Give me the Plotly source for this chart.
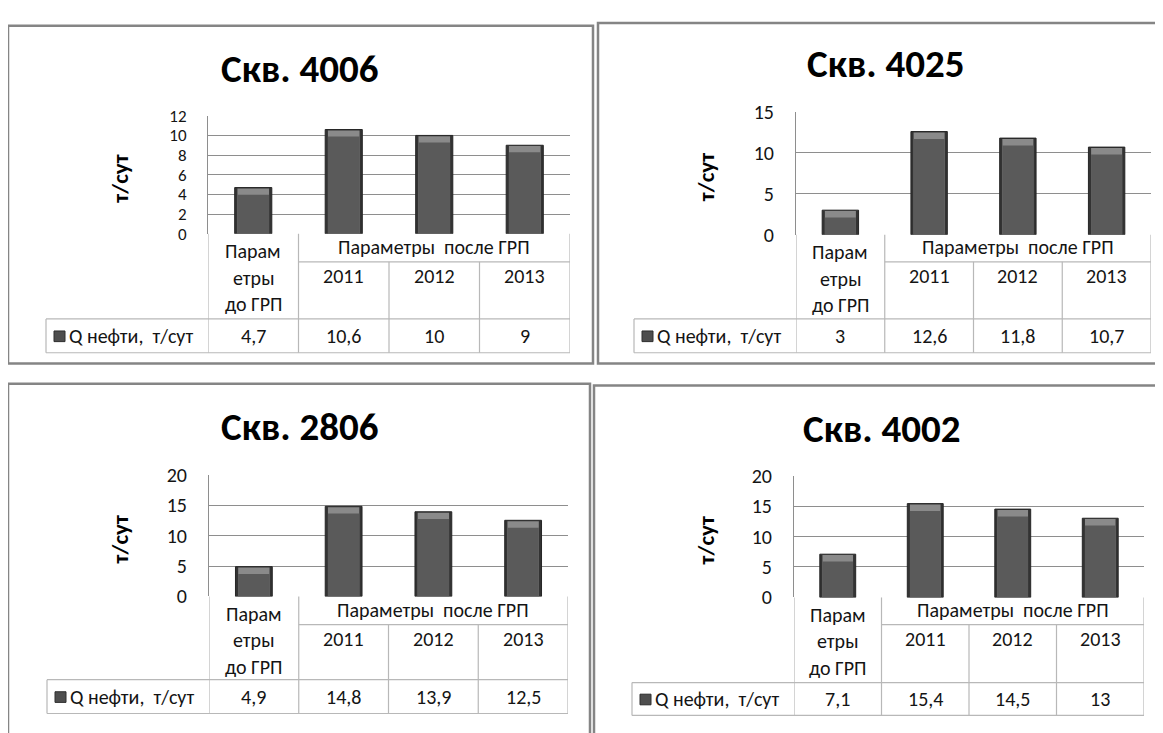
import plotly.graph_objects as go

W, H = 1163, 733
OFF = 8  # page body margin of the browser

# ---------------- data ----------------
categories = ["Параметры до ГРП", "2011", "2012", "2013"]
header_before = ["Парам", "етры", "до ГРП"]
header_after = "Параметры  после ГРП"
years = ["2011", "2012", "2013"]
series_name = "Q нефти,  т/сут"
y_title = "т/сут"

titles = ["Скв. 4006", "Скв. 4025", "Скв. 2806", "Скв. 4002"]
q_4006 = [4.7, 10.6, 10, 9]
q_4025 = [3, 12.6, 11.8, 10.7]
q_2806 = [4.9, 14.8, 13.9, 12.5]
q_4002 = [7.1, 15.4, 14.5, 13]
series = [q_4006, q_4025, q_2806, q_4002]
y_max = [12, 15, 20, 20]
y_step = [2, 5, 5, 5]

# ---------------- layout geometry (pixels of the target picture) ----------------
panels = [
    dict(tx=300, ty=58, l=208, r=570, t=107, b=229, r1=258, r2=317, r3=352, leg=46, yt=120,
         frame=(8, 14, 593, 363), tick=17),
    dict(tx=886, ty=53, l=796, r=1151, t=103, b=230, r1=258, r2=317, r3=352, leg=634, yt=706,
         frame=(598, 11, 1185, 363), tick=20),
    dict(tx=300, ty=428, l=209, r=568, t=478, b=604, r1=633, r2=690, r3=725, leg=47, yt=120,
         frame=(8, 384, 590, 760), tick=20),
    dict(tx=882, ty=430, l=794, r=1144, t=479, b=605, r1=633, r2=693, r3=727, leg=632, yt=706,
         frame=(594, 386, 1185, 760), tick=20),
]

FONT = "Carlito, Calibri, 'Noto Sans', sans-serif"
TXT = "#141414"
GRID = "#8e8e8e"
TAB = "#b8b8b8"
FRAME = "#858585"


def X(px):
    return (px - OFF) / W


def Y(py):
    return 1 - (py - OFF) / H


def fmt(v):
    return f"{v:g}".replace(".", ",")


fig = go.Figure()
shapes = []
annotations = []
layout_axes = {}

for i, (p, vals) in enumerate(zip(panels, series)):
    n = "" if i == 0 else str(i + 1)
    xr, yr = "x" + n, "y" + n
    cap = y_max[i] * 0.06

    # main bar (dark edge)
    fig.add_trace(go.Bar(
        x=categories, y=vals, xaxis=xr, yaxis=yr, width=0.41,
        marker=dict(color="#333333", line=dict(color="#262626", width=1)),
        showlegend=False, name=series_name, hoverinfo="x+y",
    ))
    # lighter top cap
    fig.add_trace(go.Bar(
        x=categories, y=[v - cap * 0.12 for v in vals], xaxis=xr, yaxis=yr, width=0.35,
        marker=dict(color="#8a8a8a", line=dict(width=0)),
        showlegend=False, hoverinfo="skip",
    ))
    # body
    fig.add_trace(go.Bar(
        x=categories, y=[v - cap for v in vals], xaxis=xr, yaxis=yr, width=0.35,
        marker=dict(color="#5a5a5a", line=dict(width=0)),
        showlegend=False, hoverinfo="skip",
    ))

    layout_axes["xaxis" + n] = dict(
        domain=[X(p["l"]), X(p["r"])], anchor=yr, type="category",
        range=[-0.5, 3.5], showticklabels=False, showgrid=False,
        zeroline=False, showline=False, fixedrange=True,
    )
    layout_axes["yaxis" + n] = dict(
        domain=[Y(p["b"]), Y(p["t"])], anchor=xr, range=[0, y_max[i]],
        dtick=y_step[i], tick0=0, showgrid=True, gridcolor=GRID, gridwidth=1,
        showline=True, linecolor=GRID, linewidth=1, zeroline=False,
        ticks="", ticklabelstandoff=17,
        tickfont=dict(family=FONT, size=p["tick"], color=TXT), fixedrange=True,
    )

    # panel frame
    fx0, fy0, fx1, fy1 = p["frame"]
    shapes.append(dict(type="rect", xref="paper", yref="paper",
                       x0=X(fx0), x1=X(fx1), y0=Y(fy1), y1=Y(fy0),
                       line=dict(color=FRAME, width=2.5), fillcolor="rgba(0,0,0,0)"))

    # title
    annotations.append(dict(text=titles[i], xref="paper", yref="paper",
                            x=X(p["tx"]), y=Y(p["ty"]), showarrow=False,
                            xanchor="center", yanchor="middle",
                            font=dict(family=FONT, size=39, color="#000", weight="bold")))
    # y title
    annotations.append(dict(text=y_title, xref="paper", yref="paper",
                            x=X(p["yt"]), y=Y((p["t"] + p["b"]) / 2 + 4), showarrow=False,
                            textangle=-90, xanchor="center", yanchor="middle",
                            font=dict(family=FONT, size=23, color="#000", weight="bold")))

    # ----- data table under the axis -----
    def hline(xa, xb, py, xref=xr):
        shapes.append(dict(type="line", xref=xref, yref="paper", x0=xa, x1=xb,
                           y0=Y(py), y1=Y(py), line=dict(color=TAB, width=1.2)))

    def vline(xv, pa, pb, xref=xr):
        shapes.append(dict(type="line", xref=xref, yref="paper", x0=xv, x1=xv,
                           y0=Y(pa), y1=Y(pb), line=dict(color=TAB, width=1.2)))

    hline(0.5, 3.5, p["r1"])
    hline(-0.5, 3.5, p["r2"])
    hline(-0.5, 3.5, p["r3"])
    for py in (p["r2"], p["r3"]):
        shapes.append(dict(type="line", xref="paper", yref="paper", x0=X(p["leg"]), x1=X(p["l"]),
                           y0=Y(py), y1=Y(py), line=dict(color=TAB, width=1.2)))
    shapes.append(dict(type="line", xref="paper", yref="paper", x0=X(p["leg"]), x1=X(p["leg"]),
                       y0=Y(p["r2"]), y1=Y(p["r3"]), line=dict(color=TAB, width=1.2)))
    vline(-0.5, p["b"], p["r3"])
    vline(0.5, p["b"], p["r3"])
    vline(1.5, p["r1"], p["r3"])
    vline(2.5, p["r1"], p["r3"])
    vline(3.5, p["b"], p["r3"])

    tfont = dict(family=FONT, size=20, color=TXT)
    for k, line in enumerate(header_before):
        annotations.append(dict(text=line, xref=xr, yref="paper", x=0,
                                y=Y(p["b"] + 18 + k * 27.5), showarrow=False,
                                xanchor="center", yanchor="middle", font=tfont))
    annotations.append(dict(text=header_after, xref=xr, yref="paper", x=2,
                            y=Y((p["b"] + p["r1"]) / 2 - 1), showarrow=False,
                            xanchor="center", yanchor="middle", font=tfont))
    for k, yr_lbl in enumerate(years):
        annotations.append(dict(text=yr_lbl, xref=xr, yref="paper", x=k + 1,
                                y=Y(p["r1"] + 15), showarrow=False,
                                xanchor="center", yanchor="middle", font=tfont))
    for k, v in enumerate(vals):
        annotations.append(dict(text=fmt(v), xref=xr, yref="paper", x=k,
                                y=Y((p["r2"] + p["r3"]) / 2), showarrow=False,
                                xanchor="center", yanchor="middle", font=tfont))
    # legend key + series name
    ym = (p["r2"] + p["r3"]) / 2
    shapes.append(dict(type="rect", xref="paper", yref="paper",
                       x0=X(p["leg"] + 8), x1=X(p["leg"] + 19), y0=Y(ym + 6), y1=Y(ym - 5),
                       fillcolor="#4e4e4e", line=dict(color="#2e2e2e", width=1)))
    annotations.append(dict(text=series_name, xref="paper", yref="paper",
                            x=X(p["leg"] + 21), y=Y(ym), showarrow=False,
                            xanchor="left", yanchor="middle", font=tfont))

fig.update_layout(
    width=W, height=H, margin=dict(l=0, r=0, t=0, b=0),
    paper_bgcolor="white", plot_bgcolor="white", barmode="overlay",
    shapes=shapes, annotations=annotations, showlegend=False,
    **layout_axes,
)

fig.write_html("out.html")
